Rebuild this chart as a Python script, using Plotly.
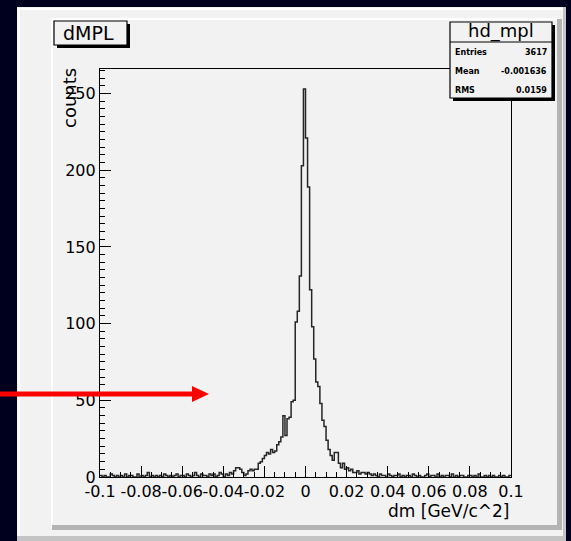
import plotly.graph_objects as go

W, H = 571, 541

# dm distribution: 200 bins of 0.001 GeV/c^2 between -0.1 and 0.1
x_min, x_max, n_bins = -0.1, 0.1, 200
counts = [
    1, 0, 1, 0, 0, 2, 1, 0, 1, 0,
    1, 0, 2, 0, 1, 1, 0, 0, 2, 0,
    1, 0, 1, 3, 0, 1, 0, 1, 0, 1,
    0, 2, 1, 0, 1, 0, 1, 2, 0, 1,
    1, 0, 2, 1, 0, 1, 3, 1, 0, 2,
    1, 1, 0, 2, 1, 2, 0, 1, 3, 2,
    0, 2, 1, 3, 2, 4, 6, 6, 5, 3,
    1, 2, 4, 5, 4, 5, 5, 9, 10, 12,
    14, 16, 15, 18, 16, 17, 21, 23, 26, 40,
    27, 38, 39, 49, 50, 101, 108, 131, 203, 253,
    221, 189, 122, 98, 77, 62, 59, 48, 37, 33,
    24, 18, 14, 11, 16, 16, 9, 6, 9, 5,
    6, 4, 5, 3, 3, 4, 2, 3, 3, 2,
    3, 2, 1, 2, 1, 0, 2, 1, 1, 0,
    2, 1, 0, 1, 1, 2, 0, 1, 0, 1,
    1, 0, 2, 1, 0, 1, 0, 0, 1, 2,
    0, 1, 1, 0, 2, 0, 1, 0, 1, 1,
    0, 2, 0, 1, 0, 1, 1, 0, 0, 1,
    1, 0, 1, 0, 2, 0, 0, 1, 0, 1,
    0, 1, 0, 0, 1, 0, 1, 0, 0, 1,
]

x_ticks = [-0.1, -0.08, -0.06, -0.04, -0.02, 0, 0.02, 0.04, 0.06, 0.08, 0.1]
x_labels = ["-0.1", "-0.08", "-0.06", "-0.04", "-0.02", "0",
            "0.02", "0.04", "0.06", "0.08", "0.1"]
y_ticks = [0, 50, 100, 150, 200, 250]
y_labels = ["0", "50", "100", "150", "200", "250"]
y_max = 266

hist_title = "dMPL"
x_title = "dm [GeV/c^2]"
y_title = "counts"
stats_name = "hd_mpl"
stats_rows = [("Entries", "3617"), ("Mean", "-0.001636"), ("RMS", "0.0159")]

FONT = "DejaVu Sans"
NAVY = "#00001e"
CANVAS = "#f2f2f2"


def px(x):
    return x / W


def py(y):
    return 1 - y / H


# bin edges and step outline
width = (x_max - x_min) / n_bins
edges = [x_min + i * width for i in range(n_bins + 1)]
step_y = counts + [counts[-1]]

fig = go.Figure()
fig.add_trace(go.Scatter(
    x=edges, y=step_y, mode="lines", line_shape="hv",
    line=dict(color="#262626", width=1.5),
    hoverinfo="skip", showlegend=False,
))

shapes = []


def rect(x0, y0, x1, y1, fill, line_color=None, lw=0, layer="below"):
    shapes.append(dict(
        type="rect", xref="paper", yref="paper",
        x0=px(x0), x1=px(x1), y0=py(y1), y1=py(y0),
        fillcolor=fill, layer=layer,
        line=dict(color=line_color or fill, width=lw),
    ))


def hline(x0, x1, y, color, lw=1, layer="above"):
    shapes.append(dict(type="line", xref="paper", yref="paper",
                       x0=px(x0), x1=px(x1), y0=py(y), y1=py(y),
                       line=dict(color=color, width=lw), layer=layer))


def vline(x, y0, y1, color, lw=1, layer="above"):
    shapes.append(dict(type="line", xref="paper", yref="paper",
                       x0=px(x), x1=px(x), y0=py(y0), y1=py(y1),
                       line=dict(color=color, width=lw), layer=layer))


# canvas with bevelled borders
rect(17, 7, 566, 541, CANVAS)
rect(17, 536, 566, 541, "#c4c4c4")
rect(563, 7, 566, 541, "#c4c4c4")
vline(19, 8, 536, "#ffffff", 2, layer="below")
hline(17, 563, 9, "#ffffff", 2, layer="below")
# inner pad border
vline(52, 19, 528, "#ffffff", 2, layer="below")
hline(52, 560, 19, "#ffffff", 2, layer="below")
rect(557, 19, 562, 530, "#b4b4b4")
rect(52, 525, 562, 530, "#b4b4b4")

# title box with drop shadow
rect(57, 24, 130, 48, "#000000", layer="above")
rect(54, 21, 127, 45, CANVAS, "#000000", 1.2, layer="above")

# statistics box with drop shadow
rect(453, 25, 555, 101, "#000000", layer="above")
rect(450, 22, 552, 98, CANVAS, "#000000", 1.2, layer="above")
hline(450, 552, 42, "#000000", 1.2)

# red arrow
hline(0, 195, 394, "#ff0000", 5)
shapes.append(dict(
    type="path", xref="paper", yref="paper",
    path=f"M {px(192)},{py(386)} L {px(209)},{py(394)} L {px(192)},{py(402)} Z",
    fillcolor="#ff0000", line=dict(color="#ff0000", width=0), layer="above",
))

annotations = [
    dict(text=hist_title, x=px(61), y=py(33), xanchor="left", yanchor="middle",
         font=dict(family=FONT, size=19, color="#000000")),
    dict(text=stats_name, x=px(501), y=py(31), xanchor="center", yanchor="middle",
         font=dict(family=FONT, size=18, color="#000000")),
    dict(text=x_title, x=px(511), y=py(511), xanchor="right", yanchor="middle",
         font=dict(family=FONT, size=17, color="#000000")),
    dict(text=y_title, x=px(69), y=py(66), xanchor="center", yanchor="top",
         textangle=-90, font=dict(family=FONT, size=18, color="#000000")),
]
for i, (name, val) in enumerate(stats_rows):
    yy = py(52 + i * 19)
    annotations.append(dict(text=f"<b>{name}</b>", x=px(453), y=yy,
                            xanchor="left", yanchor="middle",
                            font=dict(family=FONT, size=8, color="#000000")))
    annotations.append(dict(text=f"<b>{val}</b>", x=px(549), y=yy,
                            xanchor="right", yanchor="middle",
                            font=dict(family=FONT, size=8, color="#000000")))
for a in annotations:
    a.update(xref="paper", yref="paper", showarrow=False)

fig.update_layout(
    width=W, height=H, autosize=False,
    margin=dict(l=0, r=0, t=0, b=0, autoexpand=False),
    paper_bgcolor=NAVY, plot_bgcolor=CANVAS,
    shapes=shapes, annotations=annotations,
    xaxis=dict(
        domain=[100 / W, 511 / W], range=[x_min, x_max],
        tickvals=x_ticks, ticktext=x_labels, tickangle=0,
        ticks="inside", ticklen=11, tickwidth=1, tickcolor="#000000",
        minor=dict(dtick=0.005, tick0=0, ticks="inside", ticklen=5,
                   tickcolor="#000000", showgrid=False),
        showgrid=False, zeroline=False,
        showline=True, mirror=True, linecolor="#000000", linewidth=1.2,
        tickfont=dict(family=FONT, size=16, color="#000000"),
    ),
    yaxis=dict(
        domain=[(H - 477) / H, (H - 69) / H], range=[0, y_max],
        tickvals=y_ticks, ticktext=y_labels,
        ticks="inside", ticklen=11, tickwidth=1, tickcolor="#000000",
        minor=dict(dtick=5, tick0=0, ticks="inside", ticklen=5,
                   tickcolor="#000000", showgrid=False),
        showgrid=False, zeroline=False,
        showline=True, mirror=True, linecolor="#000000", linewidth=1.2,
        tickfont=dict(family=FONT, size=16, color="#000000"),
    ),
)

fig.write_html("out.html")
